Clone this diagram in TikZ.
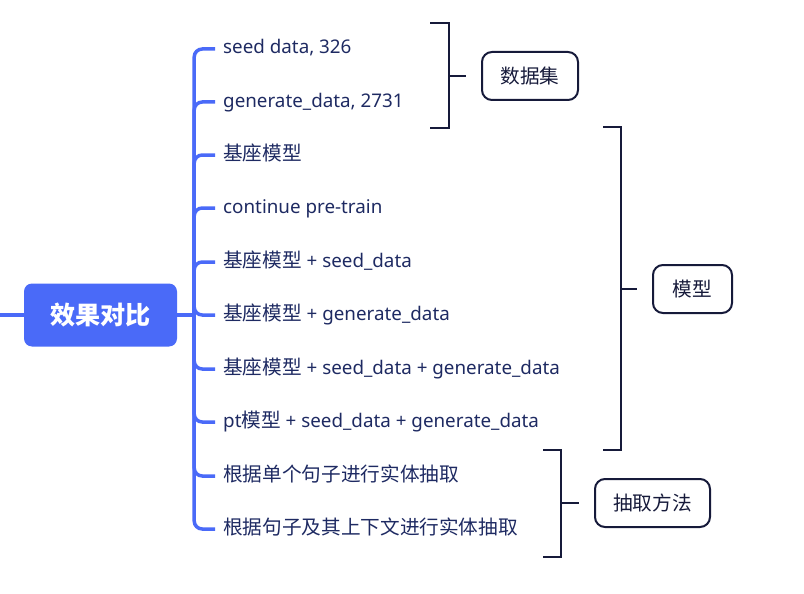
\documentclass[tikz,border=0pt]{standalone}
\usepackage{fontspec}
\setmainfont{Noto Sans}
\newfontfamily\cjk{Noto Sans CJK SC}[Scale=1.045]
\usepackage{xcolor}
\usepackage{tikz}
\usetikzlibrary{positioning}

\definecolor{mapblue}{HTML}{4A6AF8}
\definecolor{inkblue}{HTML}{1E2A62}
\definecolor{braceink}{HTML}{161A3A}

\begin{document}
\begin{tikzpicture}[x=1pt, y=-1pt,
  item/.style={anchor=west, inner sep=0pt, text height=14pt, text depth=4pt,
    text=inkblue, font=\fontsize{18.8}{22}\selectfont},
  branch/.style={mapblue, line width=3.5pt, rounded corners=8pt},
  brace/.style={braceink, line width=2.5pt},
  tag/.style={draw=braceink, line width=2pt, rounded corners=10pt,
    minimum height=48pt, text=braceink, font=\cjk\fontsize{18.8}{22}\selectfont}]
  \useasboundingbox (0,0) rectangle (804,594);

  % Root
  \node[fill=mapblue, rounded corners=8pt, minimum width=153pt, minimum height=63pt,
    text=white, font=\cjk\bfseries\fontsize{24}{28}\selectfont] (root) at (100.5,315) {效果对比};
  \coordinate (stub) at (0,315);
  \coordinate (hub) at ([xshift=17pt]root.east);
  \draw[branch] (stub) -- (root.west);
  \draw[branch] (root.east) -- (hub);

  % Items
  \foreach \name/\yy/\txt in {
      seed/49/{seed data, 326},
      gen/102/{generate\_data, 2731},
      base/155/{{\cjk 基座模型}},
      cpt/208/{continue pre-train},
      bseed/262/{{\cjk 基座模型} + seed\_data},
      bgen/315/{{\cjk 基座模型} + generate\_data},
      bboth/369/{{\cjk 基座模型} + seed\_data + generate\_data},
      ptboth/422/{pt{\cjk 模型} + seed\_data + generate\_data},
      single/476/{{\cjk 根据单个句子进行实体抽取}},
      context/529/{{\cjk 根据句子及其上下文进行实体抽取}}}{
    \node[item] (\name) at (223,\yy) {\txt};
    \draw[branch] (hub) |- ([xshift=-8pt]\name.west);
  }

  % Summary tags
  \node[tag, minimum width=96pt] (data) at (530,76) {数据集};
  \node[tag, minimum width=79pt] (model) at (692.5,289) {模型};
  \node[tag, minimum width=115pt] (method) at (652.5,503) {抽取方法};

  % Brackets
  \draw[brace] (430,23) -- (449,23) -- (449,128) -- (430,128);
  \coordinate (dataTick) at (449,76);
  \draw[brace] (dataTick) -- ([xshift=-15pt]data.west);

  \draw[brace] (603,127) -- (621,127) -- (621,450) -- (603,450);
  \coordinate (modelTick) at (621,289);
  \draw[brace] (modelTick) -- ([xshift=-15pt]model.west);

  \draw[brace] (543,450) -- (561,450) -- (561,557) -- (543,557);
  \coordinate (methodTick) at (561,503);
  \draw[brace] (methodTick) -- ([xshift=-15pt]method.west);
\end{tikzpicture}
\end{document}
